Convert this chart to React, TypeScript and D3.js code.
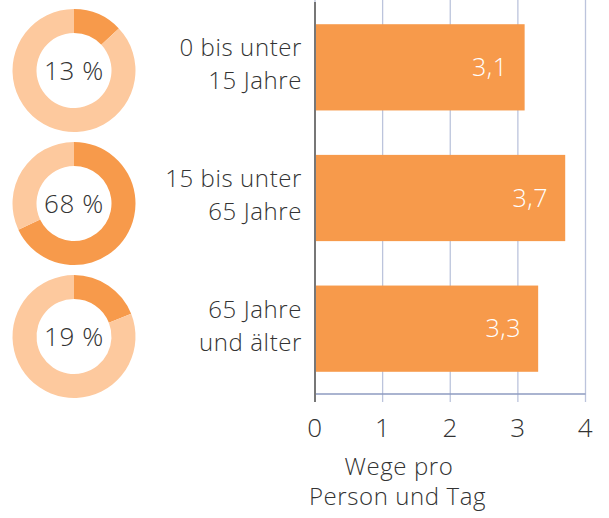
import React from "react";
import * as d3 from "d3";

const categories: string[][] = [["0 bis unter", "15 Jahre"], ["15 bis unter", "65 Jahre"], ["65 Jahre", "und älter"]];
const values: number[] = [3.1, 3.7, 3.3];
const shares: number[] = [13, 68, 19];
const ticks: number[] = [0, 1, 2, 3, 4];
const axisTitle: string[] = ["Wege pro", "Person und Tag"];

const DARK = "#F79A4B";
const LIGHT = "#FDC99E";
const TEXT = "#333";
const FONT = "'Open Sans', 'Liberation Sans', sans-serif";

export default function App() {
  const x = d3.scaleLinear().domain([0, 4]).range([315, 585.5]);
  const y = d3.scaleBand<number>().domain([0, 1, 2]).range([2, 394]).paddingInner(0.34).paddingOuter(0.17);
  const donutY = d3.scalePoint<number>().domain([0, 1, 2]).range([70.5, 336.5]);
  const arc = d3.arc<d3.PieArcDatum<number>>().innerRadius(37.5).outerRadius(61.5);
  const pie = d3.pie<number>().sort(null);
  const fmt = (v: number) => v.toFixed(1).replace(".", ",");
  return (
    <svg width={609} height={518} style={{ position: "absolute", left: 0, top: 0 }} fontFamily={FONT} fontWeight={300} letterSpacing={0.6}>
      {ticks.map((t) => (
        <line key={"g" + t} x1={x(t)} x2={x(t)} y1={0} y2={402} stroke="#BCC4DC" strokeWidth={1.3} />
      ))}
      {values.map((v, i) => {
        const yc = y(i)! + y.bandwidth() / 2;
        return (
          <g key={"b" + i}>
            <rect x={x(0)} y={y(i)} width={x(v) - x(0)} height={y.bandwidth()} fill={DARK} />
            <text x={x(v) - 17} y={yc + 8.5} textAnchor="end" fill="#fff" fontSize={25}>
              {fmt(v)}
            </text>
            <text x={302} y={yc - 11} textAnchor="end" fill={TEXT} fontSize={24}>
              {categories[i][0]}
            </text>
            <text x={302} y={yc + 22} textAnchor="end" fill={TEXT} fontSize={24}>
              {categories[i][1]}
            </text>
          </g>
        );
      })}
      {shares.map((s, i) => (
        <g key={"d" + i} transform={`translate(74,${donutY(i)})`}>
          {pie([s, 100 - s]).map((a, j) => (
            <path key={j} d={arc(a)!} fill={j === 0 ? DARK : LIGHT} />
          ))}
          <text x={0} y={9.5} textAnchor="middle" fill={TEXT} fontSize={26}>
            {s} %
          </text>
        </g>
      ))}
      <line x1={x(0)} x2={x(4)} y1={394} y2={394} stroke="#8E9BC0" strokeWidth={1.3} />
      <line x1={x(0)} x2={x(0)} y1={2} y2={402} stroke="#777" strokeWidth={2} />
      {ticks.map((t) => (
        <text key={"t" + t} x={x(t)} y={437} textAnchor="middle" fill={TEXT} fontSize={26}>
          {t}
        </text>
      ))}
      <text x={399} y={475} textAnchor="middle" fill={TEXT} fontSize={24}>
        {axisTitle[0]}
      </text>
      <text x={397.5} y={505} textAnchor="middle" fill={TEXT} fontSize={24}>
        {axisTitle[1]}
      </text>
    </svg>
  );
}
